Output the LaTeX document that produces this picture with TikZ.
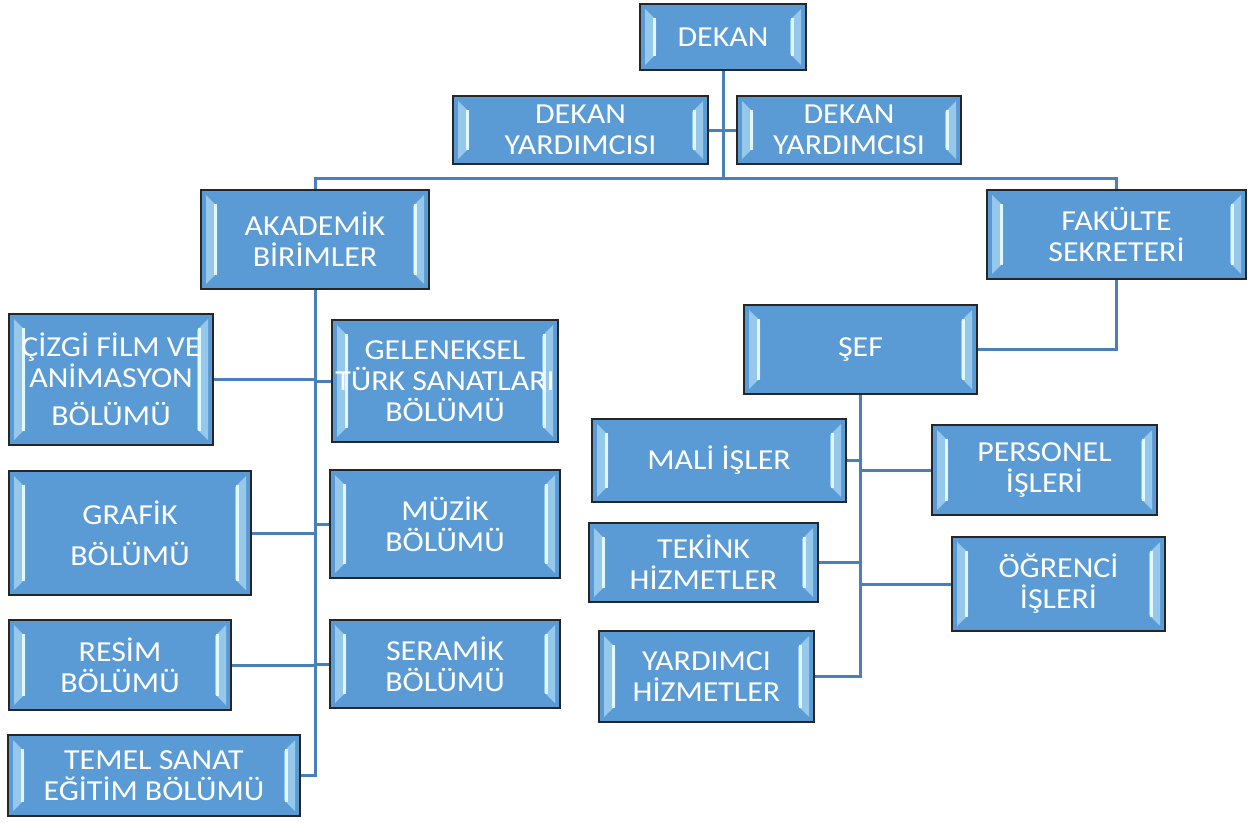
\documentclass[tikz,border=0pt]{standalone}
\usepackage{fontspec}
\setmainfont{Carlito}[FakeStretch=1.1]
\usepackage{tikz}
\usetikzlibrary{calc}

\definecolor{unitblue}{RGB}{91,155,213}
\definecolor{glow}{RGB}{225,248,255}
\definecolor{bevel}{RGB}{150,200,235}
\definecolor{linkblue}{RGB}{74,128,186}

\tikzset{
  unit/.style={rectangle, draw=black!85, line width=2pt, fill=unitblue, text=white,
    align=center, inner sep=2pt, font=\fontsize{29}{31}\selectfont,
    path picture={
      \fill[bevel]
        ($(path picture bounding box.north west)+(5pt,-5pt)$) -- ++(11pt,-11pt)
        -- ($(path picture bounding box.south west)+(16pt,16pt)$) -- ++(-11pt,-11pt) -- cycle;
      \fill[bevel]
        ($(path picture bounding box.north east)+(-5pt,-5pt)$) -- ++(-11pt,-11pt)
        -- ($(path picture bounding box.south east)+(-16pt,16pt)$) -- ++(11pt,-11pt) -- cycle;
      \draw[glow, line width=3pt]
        ($(path picture bounding box.north west)+(14pt,-14pt)$)
        -- ($(path picture bounding box.south west)+(14pt,14pt)$)
        ($(path picture bounding box.north east)+(-14pt,-14pt)$)
        -- ($(path picture bounding box.south east)+(-14pt,14pt)$);
    }},
  link/.style={draw=linkblue, line width=3pt}
}

\begin{document}
\begin{tikzpicture}[x=1pt, y=-1pt]
  \useasboundingbox (0,0) rectangle (1252,822);

  % top
  \node (dekan) [unit, minimum width=166pt, minimum height=66pt] at (723,37) {DEKAN};
  \node (dy1) [unit, minimum width=255pt, minimum height=68pt] at (580.5,130) {DEKAN\\YARDIMCISI};
  \node (dy2) [unit, minimum width=224pt, minimum height=68pt] at (849,130) {DEKAN\\YARDIMCISI};
  \node (akd) [unit, minimum width=228pt, minimum height=99pt] at (315,239.5) {AKADEMİK\\BİRİMLER};
  \node (fak) [unit, minimum width=259pt, minimum height=89pt] at (1116.5,234.5) {FAKÜLTE\\SEKRETERİ};
  \node (sef) [unit, minimum width=233pt, minimum height=89pt] at (860.5,349.5) {ŞEF};
  \coordinate (bus) at (723,178);

  % academic units
  \node (cizgi) [unit, minimum width=204pt, minimum height=131pt] at (111,379.5) {ÇİZGİ FİLM VE\\ANİMASYON\\[7pt]BÖLÜMÜ};
  \node (gelen) [unit, minimum width=226pt, minimum height=122pt] at (445,381) {GELENEKSEL\\TÜRK SANATLARI\\BÖLÜMÜ};
  \node (grafik) [unit, minimum width=242pt, minimum height=124pt] at (130,533) {GRAFİK\\[10pt]BÖLÜMÜ};
  \node (muzik) [unit, minimum width=230pt, minimum height=108pt] at (445,524) {MÜZİK\\BÖLÜMÜ};
  \node (resim) [unit, minimum width=222pt, minimum height=90pt] at (120,665) {RESİM\\BÖLÜMÜ};
  \node (seram) [unit, minimum width=230pt, minimum height=88pt] at (445,664) {SERAMİK\\BÖLÜMÜ};
  \node (temel) [unit, minimum width=292pt, minimum height=81pt] at (154,775.5) {TEMEL SANAT\\EĞİTİM BÖLÜMÜ};

  % administrative units
  \node (mali) [unit, minimum width=254pt, minimum height=83pt] at (719,460.5) {MALİ İŞLER};
  \node (pers) [unit, minimum width=225pt, minimum height=90pt] at (1044.5,470) {PERSONEL\\İŞLERİ};
  \node (tekink) [unit, minimum width=229pt, minimum height=79pt] at (703.5,562.5) {TEKİNK\\HİZMETLER};
  \node (ogr) [unit, minimum width=213pt, minimum height=94pt] at (1058.5,584) {ÖĞRENCİ\\İŞLERİ};
  \node (yard) [unit, minimum width=215pt, minimum height=91pt] at (706.5,676.5) {YARDIMCI\\HİZMETLER};

  \path [link]
  (dekan.south) edge (bus)
  (dy1.east) edge (dy2.west);
  \draw [link] (akd.north) |- (bus) -| (fak.north);
  \draw [link] (fak.south) |- (sef.east);

  \draw [link] (akd.south) -- (akd.south |- temel.east) -- (temel.east);
  \path [link]
  (cizgi.east) edge (cizgi.east -| akd.south)
  (grafik.east) edge (grafik.east -| akd.south)
  (resim.east) edge (resim.east -| akd.south)
  (gelen.west) edge (gelen.west -| akd.south)
  (muzik.west) edge (muzik.west -| akd.south)
  (seram.west) edge (seram.west -| akd.south);

  \draw [link] (sef.south) -- (sef.south |- yard.east) -- (yard.east);
  \path [link]
  (mali.east) edge (mali.east -| sef.south)
  (tekink.east) edge (tekink.east -| sef.south)
  (pers.west) edge (pers.west -| sef.south)
  (ogr.west) edge (ogr.west -| sef.south);
\end{tikzpicture}
\end{document}
